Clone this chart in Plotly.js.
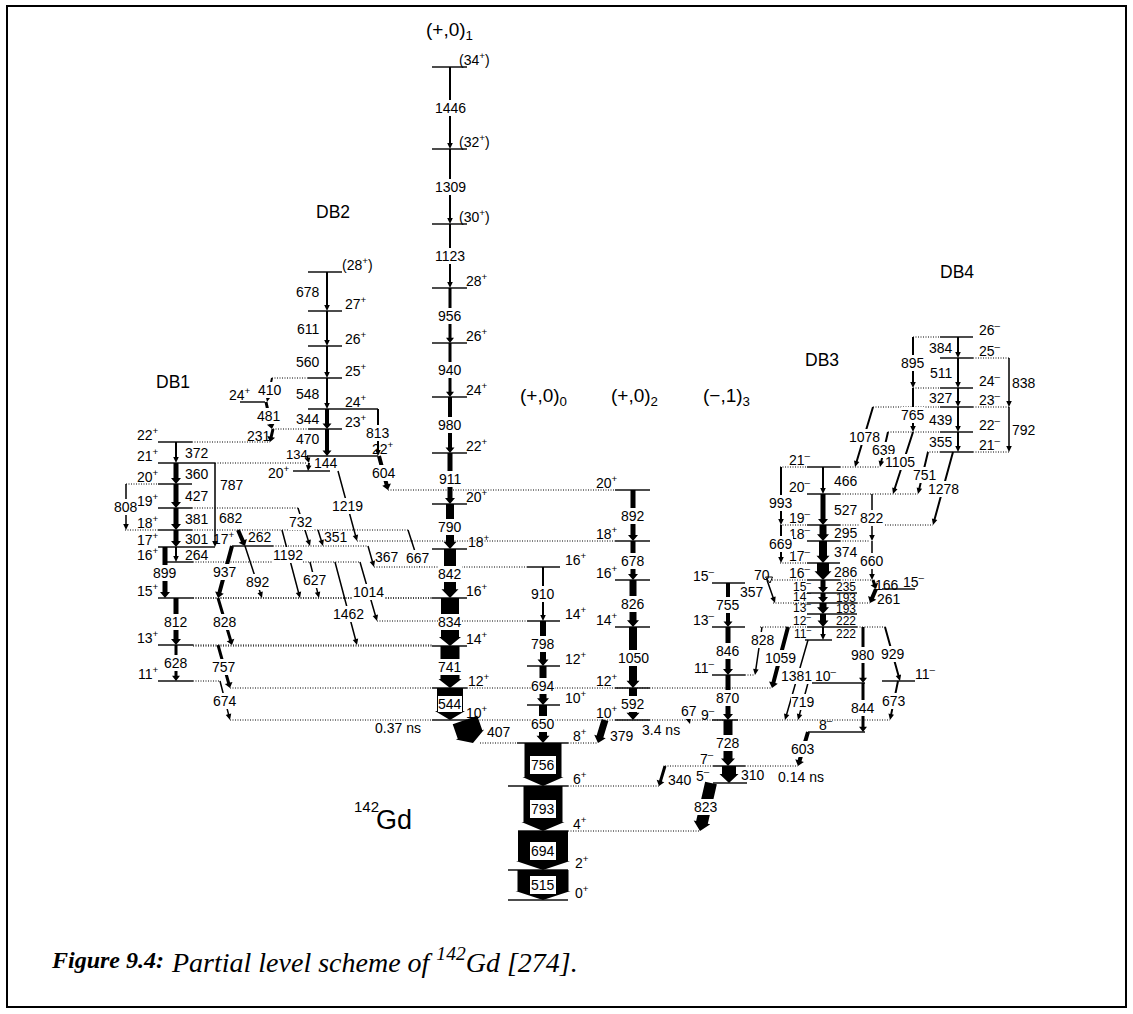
<!DOCTYPE html>
<html>
<head>
<meta charset="utf-8">
<script src="https://cdn.plot.ly/plotly-3.0.1.min.js"></script>
<style>html,body{margin:0;padding:0;background:#fff;overflow:hidden}#chart{width:1133px;height:1014px}</style>
</head>
<body>
<div id="chart"></div>
<script>
// ===================== DATA =====================
// Levels: id (band letter + tag), spin-parity, schematic drawing height
const levelIds = [
  "M34","M32","M30","M28","M26","M24","M22","M20","M18","M16","M14","M12","M10",
  "G8","G6","G4","G2","G0",
  "Z16","Z14","Z12","Z10",
  "T20","T18","T16","T14","T12","T10",
  "D28","D27","D26","D25","D24","D23","D22","D20","D24b",
  "B22","B21","B20","B19","B18","B17","B16","B15","B13","B11","B17b",
  "R15","R13","R11","R9","R7","R5",
  "C21","C20","C19","C18","C17","C16","C15","C14","C13","C12","C11","C10","C8","C11r","C15r",
  "F26","F25","F24","F23","F22","F21"
];
const levelSpins = [
  "(34+)","(32+)","(30+)","28+","26+","24+","22+","20+","18+","16+","14+","12+","10+",
  "8+","6+","4+","2+","0+",
  "16+","14+","12+","10+",
  "20+","18+","16+","14+","12+","10+",
  "(28+)","27+","26+","25+","24+","23+","22+","20+","24+",
  "22+","21+","20+","19+","18+","17+","16+","15+","13+","11+","17+",
  "15-","13-","11-","9-","7-","5-",
  "21-","20-","19-","18-","17-","16-","15-","14-","13-","12-","11-","10-","8-","11-","15-",
  "26-","25-","24-","23-","22-","21-"
];
const levelHeights = [
  67,149,224,288,343,397,453,504,549,598,646,688,720,
  743,786,831,870,900,
  567,621,666,705,
  490,541,580,627,688,720,
  272,311,346,378,409,429,456,471,402,
  442,463,484,508,530,547,562,598,645,681,546,
  583,627,675,720,766,783,
  467,494,525,541,563,580,593,603,614,627,640,683,732,681,589,
  337,358,388,407,432,452
];

// Gamma transitions: energy label (keV), initial level, final level, intensity (arrow width)
const gammaLabels = [
 "1446","1309","1123","956","940","980","911","790","842","834","741","544","407",
 "910","798","694","650",
 "756","793","694","515",
 "892","678","826","1050","592","379",
 "678","611","560","548","344","470","813","604","134","144","1219","410","481","231",
 "372","360","427","381","301","264","787","808","899","812","628",
 "682","937","892","828","757","674","732","351","1192","627","1014","1462","367","667",
 "755","846","870","728","310","823","340","603","67","70","357",
 "466","527","295","374","286","235","193","193","222","222",
 "993","669","822","660","166","261","828","1059","1381","980","844","929","673","719",
 "384","511","327","439","355","838","792","895","765","1078","639","1105","751","1278"
];
const gammaFrom = [
 "M34","M32","M30","M28","M26","M24","M22","M20","M18","M16","M14","M12","M10",
 "Z16","Z14","Z12","Z10",
 "G8","G6","G4","G2",
 "T20","T18","T16","T14","T12","T10",
 "D28","D27","D26","D25","D24","D23","D24","D22","D22","B21","D20","D25","D24b","D23",
 "B22","B21","B20","B19","B18","B17","B21","B20","B17","B15","B13",
 "B18","B17b","B17b","B15","B13","B11","B19","B18","B18","B16","B16","B16","B17b","B18",
 "R15","R13","R11","R9","R7","R5","R7","C8","T10","C16","C16",
 "C21","C20","C19","C18","C17","C16","C15","C14","C13","C12",
 "C21","C19","C20","C18","C16","C15r","C12","C12","C11","C12","C10","C12","C11r","C10",
 "F26","F25","F24","F23","F22","F25","F23","F26","F24","F23","F22","F22","F21","F21"
];
const gammaTo = [
 "M32","M30","M28","M26","M24","M22","M20","M18","M16","M14","M12","M10","G8",
 "Z14","Z12","Z10","G8",
 "G6","G4","G2","G0",
 "T18","T16","T14","T12","T10","G8",
 "D27","D26","D25","D24","D23","D22","D22","T20","B21","D20","T18","D24b","D23","B22",
 "B21","B20","B19","B18","B17","B16","B17","B18","B15","B13","B11",
 "B17b","B15","B15","B13","M12","M10","B17b","B17b","B15","B15","Z14","B13","Z16","Z16",
 "R13","R11","R9","R7","R5","G4","G6","R7","R9","R15","C14",
 "C20","C19","C18","C17","C16","C15","C14","C13","C12","C11",
 "C19","C17","C18","C16","C15r","C14","R11","M12","R9","C10","C8","C11r","R9","R9",
 "F25","F24","F23","F22","F21","F23","F21","F24","F22","C21","C21","C20","C20","C19"
];
const gammaIntensity = [
 2,2,2,3,3,4,5,8,12,18,19,26,26,
 2,6,7,8,
 37,39,50,51,
 5,5,7,8,8,7,
 2,2,2,2,4,4,2,4,2,2,1.5,2,3,3,
 2,5,5,5,5,2,1.5,1.5,5,5,3,
 4,4,1.5,3,3,1.5,1.5,1.5,1.5,1.5,1.5,1.5,1.5,1.5,
 4,5,5,9,14,12,3,4,1.5,1,1.5,
 2,5,7,8,12,5,5,7,6,2,
 2,2,1.5,1.5,3,4,1.5,4,1.5,3,3,2,2,1.5,
 2,2,2,2,2,1.5,1.5,2,2,2,2,2,2,2
];

// ===================== DRAWING GEOMETRY =====================
const bandColumn = {M:450, G:543, Z:543, T:633, D:327, B:176, R:728, C:823, F:958};
const bandLevelGeom = {M:[432,467,'l',464], G:[508,568,'l',573], Z:[527,560,'l',563], T:[615,650,'r',620],
  D:[308,342,'l',343], B:[158,192,'r',161], R:[712,745,'r',717], C:[807,840,'r',813], F:[940,973,'l',977]};
const bandLabelDx = {M:0, G:0, Z:0, T:0, D:-19, B:21, R:0, C:23, F:-17};
const TXT = 14, SMALL = 12;

const levelGeom = {
 M34:{lx:457}, M32:{lx:457}, M30:{lx:457}, M18:{lx:466}, M16:{dl:193}, M14:{dl:193}, M12:{lx:466,dl:230,dr:772}, M10:{dl:230,dr:890},
 G8:{x1:517,dl:480,dr:597,lx:571}, G6:{dr:659,lx:571}, G4:{x1:518,dr:700,lx:571},
 Z16:{dl:374}, Z14:{dl:377},
 T20:{dl:388}, T18:{dl:357},
 D28:{lx:340}, D25:{dl:272}, D24:{x2:378}, D23:{dl:273}, D22:{x1:307,x2:378,lx:370}, D20:{x1:293,x2:330,la:'r',lx:292,ldy:1}, D24b:{x1:240,x2:265,la:'r',lx:253},
 B22:{dr:270}, B21:{x2:215,dr:307}, B20:{dl:126}, B19:{dr:298}, B18:{dl:125,dr:408}, B17:{x2:215}, B16:{x1:167,x2:193,dr:360},
 B15:{x2:193,dr:433}, B13:{x2:193,dr:433}, B11:{x2:193,dr:220}, B17b:{x1:232,x2:273,dr:368,lx:237},
 R11:{dr:755}, R9:{x2:738,ldy:-6}, R7:{x1:713,dl:665,dr:798,lx:716}, R5:{x1:713,x2:747,lx:712},
 C21:{dl:780,dr:880}, C20:{dr:918}, C19:{dl:780,dr:933}, C18:{dr:870}, C17:{dl:780}, C16:{dl:767,dr:873}, C15:{x2:857,fs:SMALL,ldy:-7},
 C14:{x2:857,dl:773,dr:870,fs:SMALL,ldy:-7}, C13:{x2:857,fs:SMALL,ldy:-7}, C12:{x2:857,dl:760,dr:887,fs:SMALL,ldy:-7}, C11:{x1:805,x2:832,fs:SMALL,ldy:-7}, C10:{x1:808,x2:865,la:'c',lx:826},
 C8:{x1:808,x2:865,la:'c',lx:826}, C11r:{x1:882,x2:915,la:'l',lx:913}, C15r:{x1:882,x2:915,la:'l',lx:901},
 F26:{dl:913}, F25:{dr:1010}, F24:{dl:913}, F23:{dl:873,dr:1010}, F22:{dl:888}, F21:{dl:927,dr:1010}
};

const gammaGeom = {
 "407M10":{xt:465,xb:473,dx:30,dy:0},
 "379T10":{xt:605,xb:598,dx:20,dy:4},
 "813D24":{x:378}, "604D22":{xt:379,xb:388},
 "470D23":{dy:-4},
 "134D22":{xt:307,xb:309,dx:-11,dy:-5,fs:13}, "144B21":{xt:309,xb:308,dx:17,dy:-4},
 "1219D20":{xt:338,xb:357}, "410D25":{xt:272,xb:267}, "481D24b":{xt:266,xb:272}, "231D23":{xt:273,xb:270,dx:-13},
 "787B21":{x:215,dx:17,dy:-20}, "808B20":{x:126,dx:0}, "899B17":{x:165,dx:0}, "812B15":{dx:0}, "628B13":{dx:0},
 "682B18":{xt:238,xb:245,dx:-11,dy:-20}, "937B17b":{xt:232,xb:218}, "892B17b":{xt:245,xb:262,dx:4,dy:10},
 "828B15":{xt:218,xb:232}, "757B13":{xt:218,xb:230}, "674B11":{xt:220,xb:230},
 "732B19":{xt:298,xb:310,dx:-3,dy:-5}, "351B18":{xt:318,xb:323,dx:15,dy:-1}, "1192B18":{xt:282,xb:300,dx:-3,dy:-9},
 "627B16":{xt:310,xb:319}, "1014B16":{xt:360,xb:377}, "1462B16":{xt:335,xb:357,dx:2,dy:10},
 "367B17b":{xt:368,xb:374,dx:16}, "667B18":{xt:408,xb:420,dx:4,dy:9},
 "310R7":{x:729,dx:24}, "823R5":{xt:711,xb:700}, "340R7":{xt:665,xb:659,dx:18,dy:4}, "603C8":{xt:808,xb:798},
 "67T10":{xt:687,xb:690,tdy:-6,bdy:4,dy:-8}, "70C16":{xt:769,xb:770,open:true,dx:-8,dy:-7}, "357C16":{xt:767,xb:775,dx:-19},
 "235C16":{fs:SMALL}, "193C15":{fs:SMALL}, "193C14":{fs:SMALL}, "222C13":{fs:SMALL}, "222C12":{fs:SMALL},
 "993C21":{x:781,dx:0,dy:7}, "669C19":{x:781,dx:0}, "822C20":{x:872,dx:0}, "660C18":{x:872,dx:0},
 "166C16":{xt:873,xb:876,dx:12}, "261C15r":{xt:876,xb:870,dx:16,dy:3},
 "828C12":{xt:762,xb:755,dx:4,dy:-11}, "1059C12":{xt:788,xb:772}, "1381C11":{xt:808,xb:785,dy:-4},
 "980C12":{x:863,dx:0}, "844C10":{x:863,dx:0}, "929C12":{xt:885,xb:900}, "673C11r":{xt:898,xb:890}, "719C10":{xt:808,xb:798},
 "838F25":{x:1009,dx:15}, "792F23":{x:1009,dx:15}, "895F26":{x:913,dx:0}, "765F24":{x:913,dx:0,dy:5},
 "1078F23":{xt:873,xb:855}, "639F22":{xt:888,xb:880}, "1105F22":{xt:913,xb:893,dx:-3,dy:-1}, "751F21":{xt:928,xb:918,dx:2,dy:2}, "1278F21":{xt:953,xb:933}
};

// free text labels
const textLabels = [
 ["(+,0)<sub>1</sub>",449,31,19,'center'], ["(+,0)<sub>0</sub>",543,397,19,'center'],
 ["(+,0)<sub>2</sub>",634,397,19,'center'], ["(\u2212,1)<sub>3</sub>",726,397,19,'center'],
 ["DB1",173,382,17.5,'center'], ["DB2",333,212,17.5,'center'], ["DB3",822,360,17.5,'center'], ["DB4",957,272,17.5,'center'],
 ["0.37 ns",398,728,TXT,'center'], ["3.4 ns",661,730,TXT,'center'], ["0.14 ns",801,777,TXT,'center'],
 ["262",260,537,TXT,'center'], ["Gd",414,820,27,'right'], ["142",381,806,15,'right']
];

// ===================== BUILD =====================
const FONT = "Liberation Sans, Arial, sans-serif";
const shapes = [], annotations = [];
const yOf = id => levelHeights[levelIds.indexOf(id)];
const fmtSpin = s => s.replace(/([+\-])(\)?)$/, (m,a,b)=>'<sup>'+(a==='-'?'\u2013':'+')+'</sup>'+b);

const solidX=[], solidY=[], dotX=[], dotY=[];
levelIds.forEach((id,i)=>{
  const bg = bandLevelGeom[id[0]], o = levelGeom[id]||{};
  const x1 = o.x1??bg[0], x2 = o.x2??bg[1], y = levelHeights[i];
  if (o.dl!==undefined && o.dl<x1){ dotX.push(o.dl,x1,null); dotY.push(y,y,null); }
  if (o.dr!==undefined && o.dr>x2){ dotX.push(x2,o.dr,null); dotY.push(y,y,null); }
  solidX.push(x1,x2,null); solidY.push(y,y,null);
  const la = o.la??bg[2], lx = o.lx??bg[3], ldy = o.ldy??-8;
  annotations.push({x:lx, y:y+ldy, xref:'x', yref:'y', text:fmtSpin(levelSpins[i]), showarrow:false,
    xanchor: la==='l'?'left':(la==='r'?'right':'center'), yanchor:'middle', font:{family:FONT,size:o.fs||TXT,color:'#000'}});
});

function arrowPath(x1,y1,x2,y2,w){
  const dx=x2-x1, dy=y2-y1, L=Math.hypot(dx,dy)||1;
  const ux=dx/L, uy=dy/L, nx=-uy, ny=ux;
  let hw, hl;
  if (w<=2.5){hw=2.8; hl=6;}
  else if (w<=14){hw=w/2+2.5; hl=Math.min(9,4+w*0.4);}
  else {hw=w/2+2; hl=9;}
  hl=Math.min(hl,L*0.7);
  const s=w/2, bx=x2-ux*hl, by=y2-uy*hl;
  const p=[[x1+nx*s,y1+ny*s],[bx+nx*s,by+ny*s],[bx+nx*hw,by+ny*hw],[x2,y2],[bx-nx*hw,by-ny*hw],[bx-nx*s,by-ny*s],[x1-nx*s,y1-ny*s]];
  return 'M'+p.map(q=>q[0].toFixed(2)+','+q[1].toFixed(2)).join('L')+'Z';
}

gammaLabels.forEach((lab,i)=>{
  const from=gammaFrom[i], to=gammaTo[i], w=gammaIntensity[i];
  const g = gammaGeom[lab+from]||{};
  const col = bandColumn[from[0]];
  const xt = g.xt??g.x??col, xb = g.xb??g.x??col;
  const yt = yOf(from)+(g.tdy||0), yb = yOf(to)+(g.bdy||0);
  if (g.open){
    shapes.push({type:'path', xref:'x', yref:'y', path:`M${xt-3.5},${yt-3}L${xt+3.5},${yt-3}L${xb},${yb}Z`, fillcolor:'#fff', line:{color:'#000',width:1}});
  } else {
    shapes.push({type:'path', xref:'x', yref:'y', path:arrowPath(xt,yt,xb,yb,w), fillcolor:'#000', line:{width:0}});
  }
  const explicitX = (g.x!==undefined || g.xt!==undefined);
  const dx = g.dx ?? (explicitX ? 0 : bandLabelDx[from[0]]);
  const dy = g.dy ?? 0;
  const boxed = from[0]==='G' && to[0]==='G';
  const bgOn = g.bg ?? (Math.abs(dx)<6);
  annotations.push({x:(xt+xb)/2+dx, y:(yt+yb)/2+dy, xref:'x', yref:'y', text:lab, showarrow:false,
    xanchor:'center', yanchor:'middle', font:{family:FONT,size:g.fs||TXT,color:'#000'},
    bgcolor: (boxed||bgOn)?'#fff':'rgba(0,0,0,0)', bordercolor: boxed?'#000':'rgba(0,0,0,0)',
    borderwidth: boxed?1:0, borderpad: boxed?1:0});
});

textLabels.forEach(t=>{
  annotations.push({x:t[1], y:t[2], xref:'x', yref:'y', text:t[0], showarrow:false, xanchor:t[4], yanchor:'middle',
    font:{family:FONT,size:t[3],color:'#000'}});
});

// caption
const SERIF = 'Liberation Serif, Times New Roman, serif';
annotations.push({x:49, y:960, xref:'x', yref:'y', xanchor:'left', yanchor:'middle', showarrow:false,
  text:'<b><i>Figure 9.4:</i></b>', font:{family:SERIF, size:24, color:'#000'}});
annotations.push({x:169, y:960, xref:'x', yref:'y', xanchor:'left', yanchor:'middle', showarrow:false,
  text:'<i>Partial level scheme of <sup>142</sup>Gd [274].</i>', font:{family:SERIF, size:28, color:'#000'}});

// frame
shapes.push({type:'rect', xref:'x', yref:'y', x0:7, x1:1126, y0:6, y1:1007, line:{color:'#000',width:2}, fillcolor:'rgba(0,0,0,0)', layer:'below'});

const traces = [
  {type:'scatter', mode:'lines', x:dotX, y:dotY, line:{color:'#000',width:1,dash:'1px,1.5px'}, hoverinfo:'skip', showlegend:false, connectgaps:false},
  {type:'scatter', mode:'lines', x:solidX, y:solidY, line:{color:'#111',width:1.5}, hoverinfo:'skip', showlegend:false, connectgaps:false}
];

const layout = {
  width:1133, height:1014, margin:{l:0,r:0,t:0,b:0}, paper_bgcolor:'#fff', plot_bgcolor:'#fff', showlegend:false,
  xaxis:{range:[0,1133], visible:false, fixedrange:true},
  yaxis:{range:[1014,0], visible:false, fixedrange:true},
  shapes:shapes, annotations:annotations
};
Plotly.newPlot('chart', traces, layout, {staticPlot:true, displayModeBar:false});
</script>
</body>
</html>
